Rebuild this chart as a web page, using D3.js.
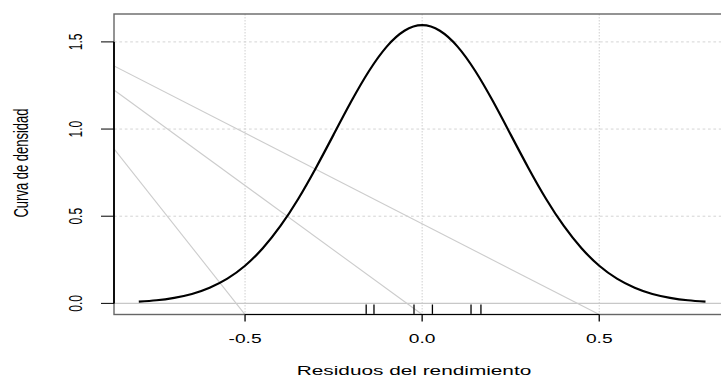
<!DOCTYPE html>
<html><head><meta charset="utf-8">
<script src="https://cdn.jsdelivr.net/npm/d3@7"></script>
<style>body{margin:0;background:#fff}svg{display:block}text{font-family:"Liberation Sans",Arial,sans-serif;fill:#000}</style>
</head><body><svg id="c" width="721" height="376"></svg>
<script>
// Density curve points
const densX = [-0.80,-0.75,-0.70,-0.65,-0.60,-0.55,-0.50,-0.45,-0.40,-0.35,-0.30,-0.25,-0.20,-0.15,-0.10,-0.05,0.00,0.05,0.10,0.15,0.20,0.25,0.30,0.35,0.40,0.45,0.50,0.55,0.60,0.65,0.70,0.75,0.80];
const densY = [0.010,0.018,0.032,0.054,0.090,0.142,0.216,0.316,0.444,0.599,0.777,0.968,1.159,1.333,1.473,1.564,1.596,1.564,1.473,1.333,1.159,0.968,0.777,0.599,0.444,0.316,0.216,0.142,0.090,0.054,0.032,0.018,0.010];
// Rug marks (observations)
const rugX = [-0.158,-0.136,-0.023,0.029,0.138,0.166];
// Light reference lines (endpoints in data units)
const refX1 = [-0.87,-0.87,-0.87];
const refY1 = [1.362,1.224,0.887];
const refX2 = [0.5,0.0,-0.5];
const refY2 = [-0.064,-0.064,-0.064];
// Axis ticks
const xTicks = [-0.5,0.0,0.5];
const yTicks = [0.0,0.5,1.0,1.5];
const xTitle = "Residuos del rendimiento";
const yTitle = "Curva de densidad";

const SX = 1.6; // horizontal stretch of text
const svg = d3.select("#c");
const L=114, R=731, T=14, B=314.5;
const x = d3.scaleLinear().domain([-0.87,0.872]).range([L,R]);
const y = d3.scaleLinear().domain([-0.0638,1.66]).range([B,T]);

svg.append("clipPath").attr("id","clip").append("rect").attr("x",L).attr("y",T).attr("width",R-L).attr("height",B-T);
const g = svg.append("g").attr("clip-path","url(#clip)");

// grid
g.selectAll(".gx").data(xTicks).join("line").attr("x1",d=>x(d)).attr("x2",d=>x(d)).attr("y1",T).attr("y2",B)
 .attr("stroke","#cfcfcf").attr("stroke-width",1).attr("stroke-dasharray","1.5,1.5");
g.selectAll(".gy").data(yTicks.filter(d=>d>0)).join("line").attr("x1",L).attr("x2",R).attr("y1",d=>y(d)).attr("y2",d=>y(d))
 .attr("stroke","#d4d4d4").attr("stroke-width",1).attr("stroke-dasharray","2.7,2.7");
// h = 0
g.append("line").attr("x1",L).attr("x2",R).attr("y1",y(0)).attr("y2",y(0)).attr("stroke","#c8c8c8").attr("stroke-width",1.2);
// reference lines
g.selectAll(".ref").data(refX1).join("line")
 .attr("x1",(d,i)=>x(refX1[i])).attr("y1",(d,i)=>y(refY1[i])).attr("x2",(d,i)=>x(refX2[i])).attr("y2",(d,i)=>y(refY2[i]))
 .attr("stroke","#cccccc").attr("stroke-width",1.1);
// curve
const pts = densX.map((d,i)=>[d,densY[i]]);
g.append("path").datum(pts).attr("d",d3.line().x(d=>x(d[0])).y(d=>y(d[1])).curve(d3.curveNatural))
 .attr("fill","none").attr("stroke","#000").attr("stroke-width",2.2);
// rug
g.selectAll(".rug").data(rugX).join("line").attr("x1",d=>x(d)).attr("x2",d=>x(d)).attr("y1",B).attr("y2",B-10)
 .attr("stroke","#000").attr("stroke-width",1.3);

// box
svg.append("rect").attr("x",L).attr("y",T).attr("width",R-L).attr("height",B-T).attr("fill","none").attr("stroke","#666").attr("stroke-width",1.4);

// x axis
svg.append("line").attr("x1",x(xTicks[0])).attr("x2",x(xTicks[xTicks.length-1])).attr("y1",B).attr("y2",B).attr("stroke","#000").attr("stroke-width",1.2);
svg.selectAll(".xt").data(xTicks).join("line").attr("x1",d=>x(d)).attr("x2",d=>x(d)).attr("y1",B).attr("y2",B+7).attr("stroke","#000").attr("stroke-width",1.3);
svg.selectAll(".xl").data(xTicks).join("text").attr("transform",d=>`translate(${x(d)},343) scale(${SX},1)`)
 .attr("text-anchor","middle").style("font-size","12px").text(d=>d3.format(".1f")(d).replace("−","-"));
svg.append("text").attr("transform",`translate(414,374.5) scale(${SX},1)`).attr("text-anchor","middle").style("font-size","13px").text(xTitle);

// y axis
svg.append("line").attr("x1",L).attr("x2",L).attr("y1",y(yTicks[0])).attr("y2",y(yTicks[yTicks.length-1])).attr("stroke","#000").attr("stroke-width",1.8);
svg.selectAll(".yt").data(yTicks).join("line").attr("x1",L).attr("x2",L-13).attr("y1",d=>y(d)).attr("y2",d=>y(d)).attr("stroke","#000").attr("stroke-width",1);
svg.selectAll(".yl").data(yTicks).join("text").attr("transform",d=>`translate(82,${y(d)}) scale(${SX},1) rotate(-90)`)
 .attr("text-anchor","middle").style("font-size","12px").text(d=>d3.format(".1f")(d));
svg.append("text").attr("transform",`translate(27.5,163) scale(${SX},1) rotate(-90)`).attr("text-anchor","middle").style("font-size","13px").text(yTitle);
</script></body></html>
